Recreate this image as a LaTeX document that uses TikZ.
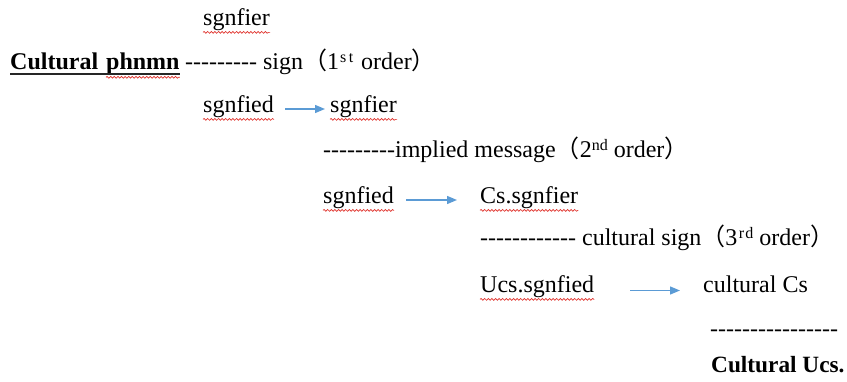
\documentclass[tikz,border=0pt]{standalone}
\usepackage{fontspec}
\setmainfont{Liberation Serif}
\newfontfamily\cjk{Noto Sans CJK SC}
\usetikzlibrary{arrows.meta,decorations.pathmorphing}
\definecolor{linkblue}{HTML}{5B9BD5}
\definecolor{spellred}{HTML}{E0302A}
% a run of plain hyphens (kerns keep them from joining into dashes)
\ExplSyntaxOn
\NewDocumentCommand\hyphens{m}{\prg_replicate:nn{#1}{-\kern0pt\relax}}
\ExplSyntaxOff
% ordinal suffix, two evenly spaced letters set small and raised
\newcommand\ordsup[2]{\raisebox{7pt}{\fontsize{16}{16}\selectfont
  \makebox[8pt]{#1}\makebox[8pt]{#2}}}
\newcommand\lpar{{\cjk （}}
\newcommand\rpar{{\cjk ）}}
\tikzset{
  txt/.style={anchor=base west, inner sep=0pt, font=\fontsize{24}{28}\selectfont},
  bftxt/.style={txt, font=\fontsize{24}{28}\selectfont\bfseries},
  link/.style={draw=linkblue, line width=1.3pt, -{Triangle[length=10pt,width=8pt]}},
  squiggle/.style={draw=spellred, line width=0.7pt, decorate,
    decoration={snake, amplitude=0.9pt, segment length=3.6pt}},
}
\begin{document}
\begin{tikzpicture}[x=1pt,y=-1pt]
\path[use as bounding box, fill=white] (0,0) rectangle (847,382);

% first order
\node[txt] (sr1) at (203,26) {sgnfier};
\node[bftxt] (cult) at (10,70) {Cultural};
\node[bftxt] (phn) at (106,70) {phnmn};
\node[txt] (sign1) at (185,70) {\hyphens{9} sign\lpar 1\ordsup{s}{t} order\rpar};
\node[txt] (sd1) at (203,113) {sgnfied};
\node[txt] (sr2) at (330,113) {sgnfier};

% second order
\node[txt] (msg) at (323,158) {\hyphens{9}implied message\lpar 2\ordsup{n}{d} order\rpar};
\node[txt] (sd2) at (323,204) {sgnfied};
\node[txt] (csr) at (480,204) {Cs.sgnfier};

% third order
\node[txt] (csign) at (480,246) {\hyphens{12} cultural sign\lpar 3\ordsup{r}{d} order\rpar};
\node[txt] (usd) at (480,293) {Ucs.sgnfied};
\node[txt] (ccs) at (703,293) {cultural Cs};
\node[txt] (last) at (710,337) {\hyphens{16}};
\node[bftxt, font=\fontsize{23.3}{28}\selectfont\bfseries] (ucs) at (711,373) {Cultural Ucs.};

% underline of the phenomenon
\draw[line width=1.8pt, black!85] ([yshift=-4pt]cult.base west) -- ([yshift=-4pt]phn.base east);

% arrows
\draw[link, shorten <=11pt, shorten >=5pt] ([yshift=4pt]sd1.base east) -- ([yshift=4pt]sr2.base west);
\draw[link, shorten <=12pt, shorten >=23pt] ([yshift=4pt]sd2.base east) -- ([yshift=4pt]csr.base west);
\draw[link, shorten <=36pt, shorten >=23pt] ([yshift=2.5pt]usd.base east) -- ([yshift=2.5pt]ccs.base west);

% wavy marks under the words
\foreach \n in {sr1,sd1,sr2,sd2,csr,usd}
  \draw[squiggle] ([yshift=-1pt]\n.south west) -- ([yshift=-1pt]\n.south east);
\draw[squiggle] ([yshift=-2pt]phn.south west) -- ([yshift=-2pt]phn.south east);
\end{tikzpicture}
\end{document}
